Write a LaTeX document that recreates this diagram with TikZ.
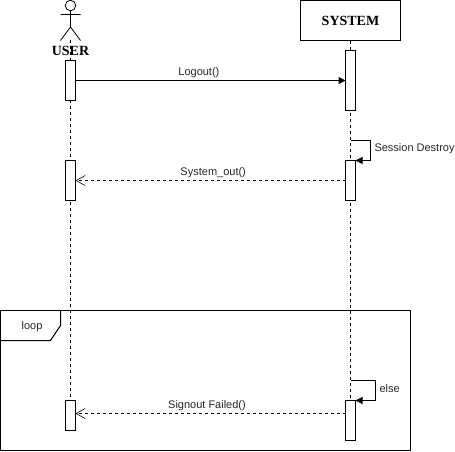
\documentclass[tikz,border=0pt]{standalone}
\usepackage{fontspec}
\setmainfont{Liberation Sans}
\newfontfamily\titlefont{Liberation Serif}
\usetikzlibrary{arrows.meta}
\tikzset{
  bar/.style={draw, fill=white, line width=1pt, minimum width=10pt, inner sep=0pt, outer sep=0pt},
  msg/.style={line width=1pt, -{Triangle[length=7pt,width=7pt]}},
  reply/.style={line width=1pt, dash pattern=on 3pt off 3pt, -{Straight Barb[length=9pt,width=10pt,line width=0.6pt]}},
  lifeline/.style={line width=1pt, dash pattern=on 3pt off 3pt},
  label/.style={font=\fontsize{11}{13}\selectfont, inner sep=0pt, text=black!85},
  title/.style={font=\titlefont\bfseries\fontsize{14}{16}\selectfont, inner sep=0pt}
}
\begin{document}
\begin{tikzpicture}[x=1pt, y=-1pt, line width=1pt]
  \useasboundingbox (0,0) rectangle (455,451);
  % system head and frame
  \node[draw, line width=1pt, minimum width=100pt, minimum height=40pt, inner sep=0pt, outer sep=0pt, title] at (350.5,20.5) (sys) {SYSTEM};
  \coordinate (userTop) at (70.5,40);
  \draw[lifeline] (userTop) -- (70.5,400);
  \draw[lifeline] (sys.south) -- (350.5,400);
  % actor
  \node[draw, circle, line width=0.8pt, minimum size=10.5pt, inner sep=0pt, outer sep=0pt] at (70.5,5.5) (head) {};
  \coordinate (hip) at (70.5,27);
  \coordinate (armL) at (60.5,14.5);
  \coordinate (armR) at (80.5,14.5);
  \coordinate (legL) at (60.5,40.5);
  \coordinate (legR) at (80.5,40.5);
  \draw[line width=0.8pt] (head) -- (hip) (armL) -- (armR) (hip) -- (legL) (hip) -- (legR);
  \node[title] at (70.5,51) (user) {USER};
  % activation bars
  \foreach \n/\x/\y/\h in {u1/70.5/80.5/40, u2/70.5/180.5/40, u3/70.5/415.5/30, s1/350.5/80.5/60, s2/350.5/180.5/40, s3/350.5/420.5/40} {
    \node[bar, minimum height=\h pt] at (\x,\y) (\n) {};
  }
  % loop frame
  \node[draw, line width=1pt, minimum width=410pt, minimum height=140pt, inner sep=0pt, outer sep=0pt] at (205.5,380.5) (frame) {};
  \coordinate (tagA) at (60.5,310.5);
  \coordinate (tagB) at (60.5,325.5);
  \coordinate (tagC) at (50.5,340.5);
  \coordinate (tagD) at (0.5,340.5);
  \draw (tagA) -- (tagB) -- (tagC) -- (tagD);
  \node[label] at (32,327) (loopText) {loop};
  % messages
  \draw[msg] (u1.east) -- node[label, pos=.457, above=2pt] (logout) {Logout()} (s1.west);
  \draw[reply] (s2.west) -- node[label, pos=.49, above=2.5pt] (sysout) {System\_out()} (u2.east);
  \coordinate (failFrom) at (345.5,413.5);
  \coordinate (failTo) at (75.5,413.5);
  \draw[reply] (failFrom) -- node[label, pos=.513, above=2pt] (failed) {Signout Failed()} (failTo);
  % self calls
  \coordinate (selfA) at (350.5,140.5);
  \coordinate (selfB) at (370.5,140.5);
  \coordinate (selfC) at (370.5,160.5);
  \draw[msg] (selfA) -- (selfB) -- (selfC) -- (s2.north east);
  \node[label, anchor=west] at (374,148.5) (destroy) {Session Destroy};
  \coordinate (elseA) at (350.5,380.5);
  \coordinate (elseB) at (375.5,380.5);
  \coordinate (elseC) at (375.5,400.5);
  \draw[msg] (elseA) -- (elseB) -- (elseC) -- (s3.north east);
  \node[label, anchor=west] at (379,389) (elseText) {else};
\end{tikzpicture}
\end{document}
